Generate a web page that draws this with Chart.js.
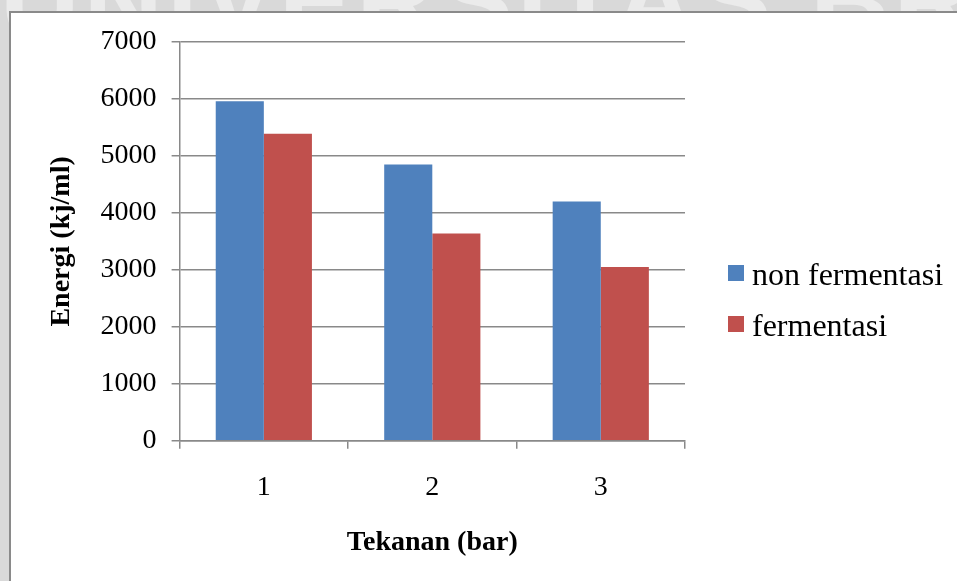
<!DOCTYPE html>
<html>
<head>
<meta charset="utf-8">
<script src="https://cdn.jsdelivr.net/npm/chart.js@4.4.1/dist/chart.umd.min.js"></script>
<style>
  html, body { margin: 0; padding: 0; width: 957px; height: 581px; overflow: hidden; background: #d9d9d9; }
  #mark { position: absolute; left: 0; top: -64px; width: 957px; text-align: center;
          font: bold 110px 'Liberation Sans', Arial, sans-serif; color: #ebebeb;
          white-space: nowrap; letter-spacing: 4px; }
  #frame { position: absolute; left: 9px; top: 11px; width: 990px; height: 620px; background: #fff;
           border-left: 2px solid #8a8a8a; border-top: 2px solid #8a8a8a; }
  #c { position: absolute; left: 0; top: 0; }
</style>
</head>
<body>
<div id="mark">UNIVERSITAS BRAWIJAYA</div>
<div id="frame"></div>
<canvas id="c" width="957" height="581"></canvas>
<script>
// Pressure levels and energy per series
const categories = ['1', '2', '3'];
const nonFermentasi = [5960, 4850, 4200];
const fermentasi = [5390, 3640, 3050];
const yMin = 0;
const yMax = 7000;
const yStep = 1000;

const SERIF = "'Liberation Serif', 'Times New Roman', serif";
const AXIS_GREY = '#898989';

// Legend drawn to the right of the plot, one swatch per dataset
const sideLegend = {
  id: 'sideLegend',
  afterDraw(chart) {
    const ctx = chart.ctx;
    const x = chart.chartArea.right + 43;
    ctx.save();
    ctx.font = '32px ' + SERIF;
    ctx.textBaseline = 'alphabetic';
    ctx.textAlign = 'left';
    chart.data.datasets.forEach((ds, i) => {
      const base = 285 + i * 51;
      ctx.fillStyle = ds.backgroundColor;
      ctx.fillRect(x, base - 20, 16, 16);
      ctx.fillStyle = '#000';
      ctx.fillText(ds.label, x + 24, base);
    });
    ctx.restore();
  }
};

new Chart(document.getElementById('c'), {
  type: 'bar',
  data: {
    labels: categories,
    datasets: [
      { label: 'non fermentasi', data: nonFermentasi, backgroundColor: '#4F81BD' },
      { label: 'fermentasi', data: fermentasi, backgroundColor: '#C0504D' }
    ]
  },
  options: {
    responsive: false,
    animation: false,
    devicePixelRatio: 1,
    datasets: { bar: { categoryPercentage: 0.571, barPercentage: 1 } },
    layout: { padding: { left: 20, top: 42, right: 272, bottom: 11 } },
    plugins: {
      legend: { display: false },
      tooltip: { enabled: false }
    },
    scales: {
      x: {
        offset: true,
        grid: { offset: true, drawOnChartArea: false, drawTicks: true, tickLength: 8,
                color: AXIS_GREY, lineWidth: 1.5 },
        border: { color: AXIS_GREY, width: 1.5 },
        ticks: { color: '#000', font: { family: SERIF, size: 28 }, padding: 22 },
        title: { display: true, text: 'Tekanan (bar)', color: '#000',
                 font: { family: SERIF, size: 28, weight: 'bold' },
                 padding: { top: 0, bottom: 10 } }
      },
      y: {
        min: yMin,
        max: yMax,
        grid: { color: AXIS_GREY, lineWidth: 1.5, tickLength: 8 },
        border: { color: AXIS_GREY, width: 1.5 },
        ticks: { stepSize: yStep, color: '#000', font: { family: SERIF, size: 28 }, padding: 15,
                 callback: (v) => String(v) },
        title: { display: true, text: 'Energi (kj/ml)', color: '#000',
                 font: { family: SERIF, size: 28, weight: 'bold' },
                 padding: { top: 25, bottom: 7 } }
      }
    }
  },
  plugins: [sideLegend]
});
</script>
</body>
</html>
